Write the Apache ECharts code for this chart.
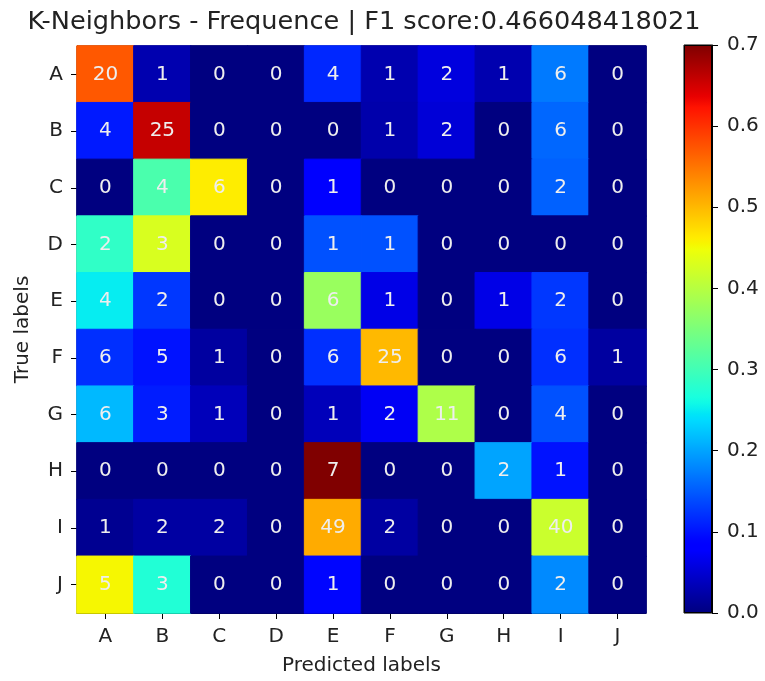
<!DOCTYPE html>
<html>
<head>
<meta charset="utf-8">
<script src="https://cdn.jsdelivr.net/npm/echarts@6/dist/echarts.min.js"></script>
<style>
html,body{margin:0;padding:0;background:#fff;}
#chart{width:765px;height:681px;}
</style>
</head>
<body>
<div id="chart"></div>
<script>
var titleText = 'K-Neighbors - Frequence | F1 score:0.466048418021';
var predictedLabels = ['A','B','C','D','E','F','G','H','I','J'];
var trueLabels = ['A','B','C','D','E','F','G','H','I','J'];
var rowA = [20, 1, 0, 0, 4, 1, 2, 1, 6, 0];
var rowB = [4, 25, 0, 0, 0, 1, 2, 0, 6, 0];
var rowC = [0, 4, 6, 0, 1, 0, 0, 0, 2, 0];
var rowD = [2, 3, 0, 0, 1, 1, 0, 0, 0, 0];
var rowE = [4, 2, 0, 0, 6, 1, 0, 1, 2, 0];
var rowF = [6, 5, 1, 0, 6, 25, 0, 0, 6, 1];
var rowG = [6, 3, 1, 0, 1, 2, 11, 0, 4, 0];
var rowH = [0, 0, 0, 0, 7, 0, 0, 2, 1, 0];
var rowI = [1, 2, 2, 0, 49, 2, 0, 0, 40, 0];
var rowJ = [5, 3, 0, 0, 1, 0, 0, 0, 2, 0];
var counts = [rowA, rowB, rowC, rowD, rowE, rowF, rowG, rowH, rowI, rowJ];
var colorbarTicks = [0, 0.1, 0.2, 0.3, 0.4, 0.5, 0.6, 0.7];

// matplotlib "jet" colormap
function interp(pts, t) {
  for (var i = 0; i < pts.length - 1; i++) {
    var a = pts[i], b = pts[i + 1];
    if (t >= a[0] && t <= b[0]) {
      return a[1] + (b[1] - a[1]) * (t - a[0]) / (b[0] - a[0]);
    }
  }
  return pts[pts.length - 1][1];
}
var jetR = [[0,0],[0.35,0],[0.66,1],[0.89,1],[1,0.5]];
var jetG = [[0,0],[0.125,0],[0.375,1],[0.64,1],[0.91,0],[1,0]];
var jetB = [[0,0.5],[0.11,1],[0.34,1],[0.65,0],[1,0]];
function jet(t) {
  t = Math.max(0, Math.min(1, t));
  var r = Math.round(interp(jetR, t) * 255);
  var g = Math.round(interp(jetG, t) * 255);
  var b = Math.round(interp(jetB, t) * 255);
  return 'rgb(' + r + ',' + g + ',' + b + ')';
}
var N = 100;
var jetColors = [];
var jetStops = [];
for (var k = 0; k <= N; k++) {
  jetColors.push(jet(k / N));
  jetStops.push({offset: k / N, color: jet(1 - k / N)});
}

var vmin = colorbarTicks[0], vmax = colorbarTicks[colorbarTicks.length - 1];

var heatData = [];
counts.forEach(function (row, yi) {
  var sum = row.reduce(function (s, v) { return s + v; }, 0);
  row.forEach(function (c, xi) {
    var v = c / sum;
    heatData.push({
      value: [xi, yi, v, c],
      itemStyle: {borderColor: jet((v - vmin) / (vmax - vmin)), borderWidth: 1}
    });
  });
});

var FONT = 'DejaVu Sans';
var TXT = '#222';

var chart = echarts.init(document.getElementById('chart'), null, {renderer: 'canvas'});
chart.setOption({
  animation: false,
  backgroundColor: '#fff',
  textStyle: {fontFamily: FONT},
  title: {
    text: titleText,
    left: 359, top: 4, textAlign: 'center',
    textStyle: {fontFamily: FONT, fontSize: 25.6, fontWeight: 'normal', color: TXT}
  },
  grid: [
    {left: 77, top: 46, width: 569, height: 567, show: true, borderColor: '#000', borderWidth: 1, backgroundColor: 'transparent'},
    {left: 684, top: 45, width: 28, height: 568, show: true, borderColor: '#000', borderWidth: 1, backgroundColor: 'transparent'}
  ],
  xAxis: [
    {
      gridIndex: 0, type: 'category', data: predictedLabels, position: 'bottom',
      name: 'Predicted labels', nameLocation: 'middle', nameGap: 43,
      nameTextStyle: {fontFamily: FONT, fontSize: 20, color: TXT},
      axisLine: {show: true, lineStyle: {color: '#000', width: 1}},
      axisTick: {show: true, alignWithLabel: true, length: 6, lineStyle: {color: '#000'}},
      axisLabel: {fontFamily: FONT, fontSize: 20, color: TXT, margin: 14},
      splitLine: {show: false}, splitArea: {show: false}
    },
    {
      gridIndex: 1, type: 'category', data: ['cb'], show: false
    }
  ],
  yAxis: [
    {
      gridIndex: 0, type: 'category', data: trueLabels, inverse: true,
      name: 'True labels', nameLocation: 'middle', nameGap: 44, nameRotate: 90,
      nameTextStyle: {fontFamily: FONT, fontSize: 20, color: TXT},
      axisLine: {show: true, lineStyle: {color: '#000', width: 1}},
      axisTick: {show: true, alignWithLabel: true, length: 6, lineStyle: {color: '#000'}},
      axisLabel: {fontFamily: FONT, fontSize: 20, color: TXT, margin: 14},
      splitLine: {show: false}, splitArea: {show: false}
    },
    {
      gridIndex: 1, type: 'value', min: vmin, max: vmax, interval: 0.1, position: 'right',
      axisLine: {show: true, lineStyle: {color: '#000', width: 1}},
      axisTick: {show: true, length: 6, inside: false, lineStyle: {color: '#000'}},
      axisLabel: {fontFamily: FONT, fontSize: 20, color: TXT, margin: 15,
        formatter: function (v) { return v.toFixed(1); }},
      splitLine: {show: false}
    }
  ],
  visualMap: {
    show: false, type: 'continuous', dimension: 2, seriesIndex: 0,
    min: vmin, max: vmax, inRange: {color: jetColors}
  },
  series: [
    {
      type: 'heatmap', xAxisIndex: 0, yAxisIndex: 0, data: heatData,
      label: {
        show: true, fontFamily: FONT, fontSize: 20, color: '#eeeeee',
        formatter: function (p) { return String(p.value[3]); }
      },
      emphasis: {disabled: true}
    },
    {
      type: 'bar', xAxisIndex: 1, yAxisIndex: 1, data: [vmax], barWidth: '100%',
      itemStyle: {
        color: {type: 'linear', x: 0, y: 0, x2: 0, y2: 1, colorStops: jetStops},
        borderColor: '#000', borderWidth: 1
      },
      silent: true
    }
  ]
});
</script>
</body>
</html>
